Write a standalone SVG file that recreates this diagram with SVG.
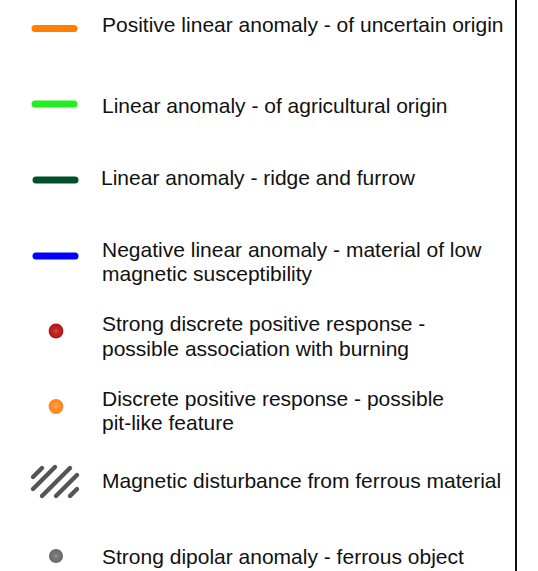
<svg xmlns="http://www.w3.org/2000/svg" width="538" height="571" viewBox="0 0 538 571">
  <defs>
    <style>
      .lbl { font-family: "Liberation Sans", Arial, sans-serif; font-size: 21px; fill: #111; }
      .bar { stroke-width: 7; stroke-linecap: round; fill: none; }
      .hatch { stroke: #555; stroke-width: 4.4; stroke-linecap: round; fill: none; }
      .spokes { stroke-width: 0.8; fill: none; opacity: 0.55; }
    </style>
    <!-- radial texture used by the point symbols -->
    <g id="spoke">
      <path d="M-6 0H6M0 -6V6M-4.2 -4.2L4.2 4.2M-4.2 4.2L4.2 -4.2M-5.5 -2.3L5.5 2.3M-5.5 2.3L5.5 -2.3M-2.3 -5.5L2.3 5.5M2.3 -5.5L-2.3 5.5"/>
    </g>
  </defs>

  <rect width="538" height="571" fill="#fff"/>

  <!-- frame edge -->
  <line x1="516" y1="0" x2="516" y2="571" stroke="#111" stroke-width="2"/>

  <g id="item-positive-linear">
    <line class="bar" x1="35" y1="28.5" x2="74" y2="28.5" stroke="#ff7f00"/>
    <text class="lbl" x="102" y="32">Positive linear anomaly - of uncertain origin</text>
  </g>

  <g id="item-agricultural">
    <line class="bar" x1="35" y1="104" x2="74" y2="104" stroke="#22ee22"/>
    <text class="lbl" x="102" y="112.5">Linear anomaly - of agricultural origin</text>
  </g>

  <g id="item-ridge-furrow">
    <line class="bar" x1="36" y1="180" x2="75" y2="180" stroke="#00502a"/>
    <text class="lbl" x="101" y="184.5">Linear anomaly - ridge and furrow</text>
  </g>

  <g id="item-negative-linear">
    <line class="bar" x1="36" y1="256" x2="75" y2="256" stroke="#0000ff"/>
    <text class="lbl" x="102" y="256.5">Negative linear anomaly - material of low</text>
    <text class="lbl" x="102" y="280.5">magnetic susceptibility</text>
  </g>

  <g id="item-strong-discrete">
    <circle cx="56" cy="331" r="7.4" fill="#b01414"/>
    <use href="#spoke" x="56" y="331" class="spokes" stroke="#e05050"/>
    <text class="lbl" x="102" y="331">Strong discrete positive response -</text>
    <text class="lbl" x="102" y="355.5">possible association with burning</text>
  </g>

  <g id="item-discrete">
    <circle cx="56" cy="406.5" r="7.4" fill="#ff8418"/>
    <use href="#spoke" x="56" y="406.5" class="spokes" stroke="#ffb060"/>
    <text class="lbl" x="102" y="405.5">Discrete positive response - possible</text>
    <text class="lbl" x="102" y="430">pit-like feature</text>
  </g>

  <g id="item-ferrous-disturbance">
    <g class="hatch">
      <line x1="33" y1="477" x2="42" y2="468"/>
      <line x1="33" y1="489" x2="55" y2="467"/>
      <line x1="42" y1="496" x2="70" y2="468"/>
      <line x1="56" y1="496" x2="77" y2="475"/>
      <line x1="70" y1="496" x2="77" y2="489"/>
    </g>
    <text class="lbl" x="102" y="488">Magnetic disturbance from ferrous material</text>
  </g>

  <g id="item-dipolar">
    <circle cx="56" cy="556" r="7" fill="#666"/>
    <use href="#spoke" x="56" y="556" class="spokes" stroke="#999"/>
    <text class="lbl" x="102" y="564">Strong dipolar anomaly - ferrous object</text>
  </g>
</svg>
